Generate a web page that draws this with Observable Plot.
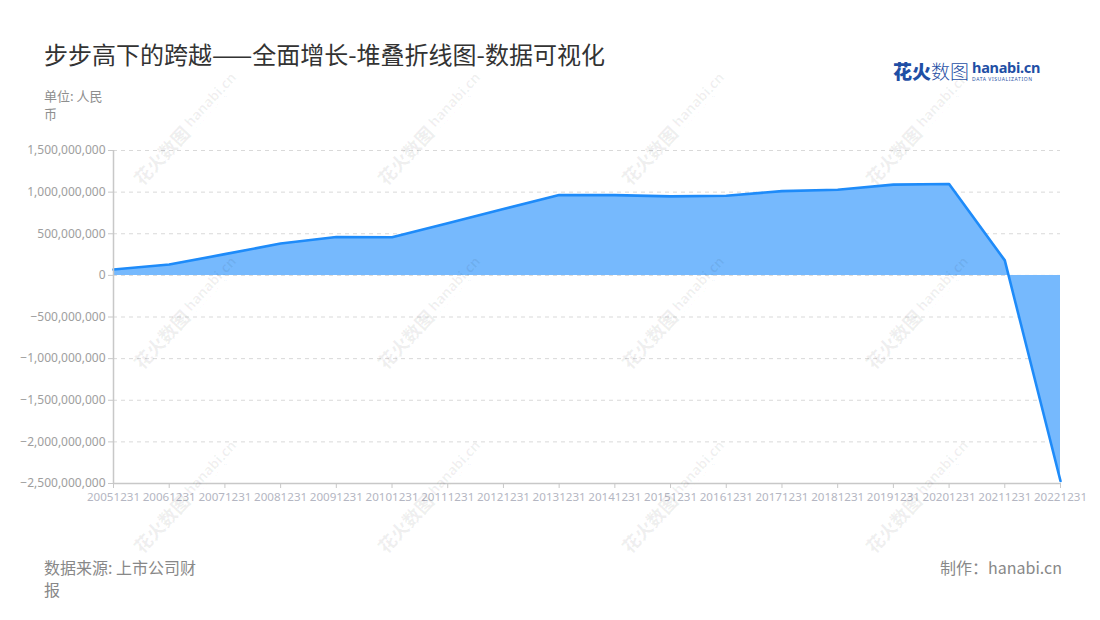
<!DOCTYPE html>
<html>
<head>
<meta charset="utf-8">
<script src="https://cdn.jsdelivr.net/npm/d3@7"></script>
<script src="https://cdn.jsdelivr.net/npm/@observablehq/plot@0.6"></script>
<style>
  html, body { margin: 0; padding: 0; background: #fff; }
  body { font-family: "Noto Sans", "Noto Sans CJK SC", sans-serif; }
  #page { position: relative; width: 1100px; height: 620px; overflow: hidden; background: #fff; }
  #title { position: absolute; left: 44px; top: 38px; font-size: 24px; color: #333; font-family: "Noto Sans CJK SC", sans-serif; white-space: nowrap; line-height: 32px; }
  #unit { position: absolute; left: 44px; top: 87px; width: 68px; font-size: 13px; color: #8e8e8e; line-height: 18px; font-family: "Noto Sans CJK SC", sans-serif; }
  #chart { position: absolute; left: 0; top: 130px; }
  #source { position: absolute; left: 44px; top: 556px; width: 156px; font-size: 16px; color: #888; line-height: 22px; font-family: "Noto Sans CJK SC", sans-serif; }
  #maker { position: absolute; right: 38px; top: 556px; font-size: 16px; color: #888; line-height: 22px; font-family: "Noto Sans CJK SC", sans-serif; white-space: nowrap; }
  #logo { position: absolute; left: 893px; top: 58px; white-space: nowrap; }
  #logo .cn { font-family: "Noto Sans CJK SC", sans-serif; font-size: 19px; color: #1f4fa5; line-height: 26px; display: inline-block; vertical-align: top; }
  #logo .cn b { font-weight: 900; }
  #logo .cn span { font-weight: 300; }
  #logo .en { display: inline-block; vertical-align: top; margin-left: 3px; margin-top: 1px; }
  #logo .en .h { font-family: "Noto Sans", sans-serif; font-weight: 700; font-size: 14.5px; color: #1f4fa5; line-height: 17px; letter-spacing: -0.3px; }
  #logo .en .d { font-family: "Noto Sans", sans-serif; font-size: 5px; color: #1f4fa5; letter-spacing: 0.6px; line-height: 6px; }
  .wm { position: absolute; white-space: nowrap; pointer-events: none; color: rgba(0,0,0,0.06); transform: translate(-50%,-50%) rotate(-47deg); font-family: "Noto Sans CJK SC", sans-serif; }
  .wm .a { font-size: 18px; font-weight: 900; vertical-align: middle; }
  .wm .b { display: inline-block; vertical-align: middle; margin-left: 4px; line-height: 1; }
  .wm .b1 { font-family: "Noto Sans", sans-serif; font-size: 14px; font-weight: 700; }
  .wm .b2 { font-family: "Noto Sans", sans-serif; font-size: 4px; letter-spacing: 0.5px; }
</style>
</head>
<body>
<div id="page">
  <div id="title">步步高下的跨越——全面增长-堆叠折线图-数据可视化</div>
  <div id="unit">单位: 人民币</div>
  <div id="logo"><div class="cn"><b>花火</b><span>数图</span></div><div class="en"><div class="h">hanabi.cn</div><div class="d">DATA VISUALIZATION</div></div></div>
  <div id="chart"></div>
  <div id="source">数据来源: 上市公司财报</div>
  <div id="maker">制作：hanabi.cn</div>
</div>
<script>
const dates = ["20051231","20061231","20071231","20081231","20091231","20101231","20111231","20121231","20131231","20141231","20151231","20161231","20171231","20181231","20191231","20201231","20211231","20221231"];
const values = [70e6, 130e6, 255e6, 383e6, 460e6, 458e6, 627e6, 797e6, 965e6, 964e6, 949e6, 956e6, 1012e6, 1028e6, 1090e6, 1098e6, 180e6, -2470e6];
const yTicks = [-2.5e9, -2e9, -1.5e9, -1e9, -0.5e9, 0, 0.5e9, 1e9, 1.5e9];

const data = dates.map((d, i) => ({date: d, value: values[i]}));

const chart = Plot.plot({
  width: 1100,
  height: 400,
  marginLeft: 113,
  marginRight: 40,
  marginTop: 20,
  marginBottom: 47,
  style: {fontFamily: "Noto Sans, sans-serif", fontSize: "12px", background: "transparent", overflow: "visible"},
  x: {type: "point", domain: dates, padding: 0, round: false, range: [113, 1060]},
  y: {domain: [-2.5e9, 1.5e9], range: [353, 20]},
  marks: [
    Plot.gridY(yTicks, {stroke: "#d9d9d9", strokeOpacity: 1, strokeDasharray: "4,4"}),
    Plot.areaY(data, {x: "date", y: "value", fill: "#76b9fd", fillOpacity: 1}),
    Plot.lineY(data, {x: "date", y: "value", stroke: "#1e8bf9", strokeWidth: 2.6, strokeLinejoin: "round"}),
    Plot.ruleX([dates[0]], {stroke: "#c8c8c8", strokeWidth: 1.5}),
    Plot.ruleY([-2.5e9], {stroke: "#c8c8c8", strokeWidth: 1.5}),
    Plot.axisY({ticks: yTicks, tickFormat: d3.format(","), tickSize: 5, tickPadding: 3, stroke: "#c8c8c8", fill: "#9e9e9e", label: null}),
    Plot.axisX({tickSize: 5, tickPadding: 4, stroke: "#c8c8c8", fill: "#b4b6c2", fontSize: 11.6, label: null})
  ]
});
document.getElementById("chart").appendChild(chart);

// watermark tiles
const page = document.getElementById("page");
const wmX = [185, 429, 673, 917];
const wmY = [128, 312, 496];
for (const cy of wmY) for (const cx of wmX) {
  const w = document.createElement("div");
  w.className = "wm";
  w.style.left = cx + "px";
  w.style.top = cy + "px";
  w.innerHTML = '<span class="a">花火数图</span><span class="b"><div class="b1">hanabi.cn</div><div class="b2">DATA VISUALIZATION</div></span>';
  page.appendChild(w);
}
</script>
</body>
</html>
